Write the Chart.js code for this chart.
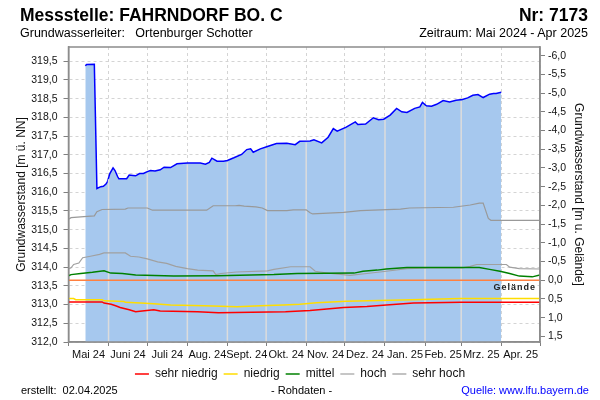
<!DOCTYPE html>
<html lang="de">
<head>
<meta charset="utf-8">
<title>Messstelle FAHRNDORF BO. C</title>
<script src="https://cdn.jsdelivr.net/npm/chart.js@4.4.1/dist/chart.umd.min.js"></script>
<style>
  body { margin: 0; background: #fff; }
  #wrap { position: relative; width: 600px; height: 400px; font-family: "Liberation Sans", Arial, sans-serif; color: #000; }
  #wrap div { position: absolute; white-space: pre; }
  .titel { font-size: 17.5px; font-weight: bold; top: 5px; line-height: 20px; }
  .sub { font-size: 12.5px; top: 26px; line-height: 14px; }
  .fuss { font-size: 11px; top: 383px; line-height: 14px; }
  canvas { position: absolute; left: 0; top: 0; }
</style>
</head>
<body>
<div id="wrap">
  <canvas id="ganglinie" width="600" height="400"></canvas>
  <div class="titel" style="left:20px">Messstelle: FAHRNDORF BO. C</div>
  <div class="titel" style="right:12px">Nr: 7173</div>
  <div class="sub" style="left:20px">Grundwasserleiter:   Ortenburger Schotter</div>
  <div class="sub" style="right:12px">Zeitraum: Mai 2024 - Apr 2025</div>
  <div class="fuss" style="left:21px">erstellt:  02.04.2025</div>
  <div class="fuss" style="left:271px">- Rohdaten -</div>
  <div class="fuss" style="right:11px;color:#0000ff">Quelle: www.lfu.bayern.de</div>
</div>
<script>
// Geländehöhe [m ü. NN]
const GELAENDE = 313.65;

// Tage seit 1. Mai 2024
const monatsGrenzen = [0, 31, 61, 92, 123, 153, 184, 214, 245, 276, 304, 335, 365];
const monatsNamen = ['Mai 24', 'Juni 24', 'Juli 24', 'Aug. 24', 'Sept. 24', 'Okt. 24',
  'Nov. 24', 'Dez. 24', 'Jan. 25', 'Feb. 25', 'Mrz. 25', 'Apr. 25'];

const linksTicks = [312.0, 312.5, 313.0, 313.5, 314.0, 314.5, 315.0, 315.5,
  316.0, 316.5, 317.0, 317.5, 318.0, 318.5, 319.0, 319.5];
const rechtsTicks = [-6.0, -5.5, -5.0, -4.5, -4.0, -3.5, -3.0, -2.5,
  -2.0, -1.5, -1.0, -0.5, 0.0, 0.5, 1.0, 1.5];

// [Tag, Wasserstand m ü. NN]
const pegel = [
  [13, 319.38], [14, 319.41], [20, 319.42], [22, 316.10], [25, 316.15], [27, 316.16],
  [29, 316.22], [30, 316.27], [32, 316.50], [34.5, 316.65], [36, 316.58], [38, 316.42],
  [39, 316.36], [45, 316.36], [47, 316.46], [50, 316.45], [52, 316.44], [55, 316.50],
  [58, 316.50], [61, 316.55], [63.5, 316.58], [67, 316.57], [71, 316.60], [74, 316.67],
  [79, 316.66], [84, 316.76], [92, 316.78], [102, 316.78], [106, 316.75], [109, 316.80],
  [111, 316.91], [115, 316.83], [120, 316.83], [123, 316.85], [128, 316.92], [134, 317.01],
  [138, 317.14], [141, 317.16], [143, 317.07], [148.5, 317.16], [154, 317.22], [161, 317.30],
  [169, 317.31], [175.5, 317.27], [179, 317.36], [187, 317.37], [190, 317.40], [196, 317.32],
  [201, 317.47], [205, 317.70], [208, 317.63], [215, 317.74], [222, 317.88], [224, 317.81],
  [230, 317.82], [236, 317.99], [240, 317.94], [244, 317.95], [249, 318.06], [254, 318.24],
  [258, 318.15], [262, 318.13], [268, 318.24], [272, 318.28], [274, 318.40], [277, 318.31],
  [281, 318.30], [285, 318.35], [290, 318.45], [295, 318.41], [300, 318.46], [305, 318.48],
  [309, 318.52], [313, 318.59], [317, 318.61], [321, 318.53], [326, 318.62], [329, 318.64],
  [331, 318.64], [335, 318.67]
];

const sehrHoch = [
  [0, 315.28], [2, 315.32], [12, 315.35], [20, 315.37], [22, 315.48], [26, 315.54],
  [44, 315.55], [46, 315.58], [61, 315.58], [65, 315.52], [107, 315.52], [112, 315.64],
  [129, 315.64], [132, 315.65], [136, 315.63], [145, 315.61], [150, 315.58], [154, 315.51],
  [169, 315.51], [174, 315.53], [184, 315.53], [187, 315.45], [189, 315.42], [213, 315.46],
  [226, 315.51], [257, 315.55], [264, 315.58], [298, 315.60], [311, 315.66], [318, 315.71],
  [321, 315.71], [325, 315.30], [327, 315.25], [365, 315.25]
];

const hoch = [
  [0, 313.95], [2, 313.98], [4, 314.07], [8, 314.11], [11, 314.25], [17, 314.29],
  [24, 314.34], [27.5, 314.38], [44, 314.38], [48, 314.29], [54.5, 314.27], [61, 314.22],
  [69, 314.14], [76, 314.10], [83, 314.02], [92, 313.96], [100, 313.92], [112, 313.90],
  [114, 313.80], [118, 313.83], [130, 313.87], [154, 313.90], [159, 313.94], [172, 314.01],
  [187, 314.01], [191, 313.89], [203, 313.83], [218, 313.78], [231, 313.83], [246, 313.89],
  [262, 313.96], [280, 313.98], [305, 313.98], [311, 314.02], [316, 314.07], [339, 314.07],
  [341.5, 314.00], [349, 313.96], [365, 313.95]
];

const mittel = [
  [0, 313.77], [2, 313.80], [9.5, 313.83], [18.5, 313.86], [27.5, 313.90], [32.7, 313.84],
  [41.7, 313.83], [52, 313.79], [81.5, 313.76], [115, 313.77], [159, 313.80], [177, 313.83],
  [221, 313.84], [228, 313.89], [239, 313.92], [246, 313.95], [262, 313.99], [318, 313.99],
  [326, 313.94], [334, 313.89], [341.5, 313.83], [349, 313.76], [359, 313.74], [365, 313.79]
];

const niedrig = [
  [0, 313.16], [4, 313.16], [5.6, 313.13], [26, 313.13], [27.5, 313.10], [43, 313.08],
  [44, 313.06], [56, 313.04], [66, 313.02], [79, 312.99], [105, 312.97], [130.5, 312.94],
  [148.5, 312.97], [166.5, 312.99], [179, 313.01], [192, 313.05], [215, 313.09], [266, 313.13],
  [303, 313.16], [365, 313.16]
];

const sehrNiedrig = [
  [0, 313.07], [26, 313.07], [27.5, 313.04], [33, 313.01], [36.5, 312.97], [40, 312.92],
  [47, 312.86], [52, 312.81], [57, 312.83], [66, 312.86], [71, 312.83], [100, 312.81],
  [116, 312.78], [168, 312.81], [187, 312.84], [200, 312.88], [213, 312.92], [231, 312.95],
  [246, 312.99], [267, 313.04], [304, 313.06], [365, 313.06]
];

const Y_MIN = 312.0, Y_MAX = 319.88;

const monatsMitten = monatsNamen.map((n, i) => (monatsGrenzen[i] + monatsGrenzen[i + 1]) / 2);
const xTicks = monatsGrenzen.concat(monatsMitten).sort((a, b) => a - b);
const istGrenze = v => monatsGrenzen.includes(v);
const komma = v => (Math.abs(v) < 1e-9 ? 0 : v).toFixed(1).replace('.', ',');
const punkte = arr => arr.map(p => ({x: p[0], y: p[1]}));

function pegelAm(tag) {
  for (let i = 1; i < pegel.length; i++) {
    if (pegel[i][0] >= tag) {
      const [x0, y0] = pegel[i - 1], [x1, y1] = pegel[i];
      return y0 + (y1 - y0) * (tag - x0) / (x1 - x0);
    }
  }
  return pegel[pegel.length - 1][1];
}

function linie(label, data, farbe, breite) {
  return {
    label: label, data: punkte(data), borderColor: farbe, backgroundColor: farbe,
    borderWidth: breite, pointRadius: 0, fill: false, tension: 0
  };
}

// helle Monatslinien über der Fläche
const monatsLinien = {
  id: 'monatsLinien',
  afterDatasetDraw(chart, args) {
    if (args.index !== 6) return;
    const ctx = chart.ctx, x = chart.scales.x, y = chart.scales.y;
    const von = pegel[0][0], bis = pegel[pegel.length - 1][0];
    ctx.save();
    ctx.strokeStyle = '#dcdcdc';
    ctx.lineWidth = 1.5;
    ctx.beginPath();
    monatsGrenzen.filter(d => d > von && d < bis).forEach(d => {
      const px = x.getPixelForValue(d);
      ctx.moveTo(px, chart.chartArea.bottom);
      ctx.lineTo(px, y.getPixelForValue(pegelAm(d)) + 1.5);
    });
    ctx.stroke();
    ctx.restore();
  }
};

const rahmen = {
  id: 'rahmen',
  afterDatasetsDraw(chart) {
    const ctx = chart.ctx, a = chart.chartArea;
    ctx.save();
    ctx.strokeStyle = '#8c8c8c';
    ctx.lineWidth = 1.5;
    ctx.strokeRect(a.left, a.top, a.right - a.left, a.bottom - a.top);
    ctx.fillStyle = '#222';
    ctx.font = 'bold 9px "Liberation Sans", Arial, sans-serif';
    ctx.letterSpacing = '1px';
    ctx.textAlign = 'right';
    ctx.textBaseline = 'middle';
    ctx.fillText('Gelände', a.right - 4, chart.scales.y.getPixelForValue(GELAENDE) + 7);
    ctx.restore();
  }
};

const ctx = document.getElementById('ganglinie').getContext('2d');
const chart = new Chart(ctx, {
  type: 'line',
  data: {
    datasets: [
      linie('sehr niedrig', sehrNiedrig, '#ff0000', 1.5),
      linie('niedrig', niedrig, '#ffdd00', 1.5),
      linie('mittel', mittel, '#008000', 1.5),
      linie('hoch', hoch, '#a0a0a0', 1.2),
      linie('sehr hoch', sehrHoch, '#999999', 1.2),
      linie('Gelände', [[0, GELAENDE], [365, GELAENDE]], '#ff8040', 1.5),
      {
        label: 'Grundwasserstand', data: punkte(pegel), borderColor: '#0000ff',
        backgroundColor: '#a6c8ee', borderWidth: 1.5, pointRadius: 0, fill: 'start', tension: 0
      }
    ]
  },
  options: {
    responsive: false,
    animation: false,
    layout: { padding: { top: 47, left: 0, right: 0, bottom: 10 } },
    plugins: {
      tooltip: { enabled: false },
      legend: {
        position: 'bottom',
        labels: {
          filter: item => item.datasetIndex < 5,
          usePointStyle: true,
          pointStyle: 'line',
          pointStyleWidth: 14,
          padding: 6,
          color: '#111',
          font: { size: 12, family: '"Liberation Sans", Arial, sans-serif' }
        }
      }
    },
    scales: {
      x: {
        type: 'linear', min: 0, max: 365,
        afterBuildTicks: s => { s.ticks = xTicks.map(v => ({value: v})); },
        afterFit: s => { s.height = 20; },
        ticks: {
          autoSkip: false, maxRotation: 0, padding: 2, color: '#111',
          font: { size: 11, family: '"Liberation Sans", Arial, sans-serif' },
          callback: v => { const i = monatsMitten.indexOf(v); return i >= 0 ? monatsNamen[i] : ''; }
        },
        grid: {
          color: c => (c.tick && istGrenze(c.tick.value)) ? '#d4d4d4' : 'rgba(0,0,0,0)',
          tickColor: c => (c.tick && istGrenze(c.tick.value)) ? '#808080' : 'rgba(0,0,0,0)',
          tickLength: 4, tickBorderDash: [], lineWidth: 1
        },
        border: { color: '#8c8c8c', width: 1.5, dash: [3, 3] }
      },
      y: {
        position: 'left', min: Y_MIN, max: Y_MAX,
        afterBuildTicks: s => { s.ticks = linksTicks.map(v => ({value: v})); },
        afterFit: s => { s.width = 68.5; },
        ticks: {
          padding: 6, color: '#111',
          font: { size: 10.5, family: '"Liberation Sans", Arial, sans-serif' },
          callback: v => komma(v)
        },
        grid: { color: '#d4d4d4', tickColor: '#808080', tickLength: 5, tickBorderDash: [] },
        border: { color: '#8c8c8c', width: 1.5, dash: [3, 3] },
        title: {
          display: true, text: 'Grundwasserstand [m ü. NN]', color: '#111',
          font: { size: 12, family: '"Liberation Sans", Arial, sans-serif' },
          padding: { top: 14, bottom: 0 }
        }
      },
      y2: {
        position: 'right', reverse: true,
        min: GELAENDE - Y_MAX, max: GELAENDE - Y_MIN,
        afterBuildTicks: s => { s.ticks = rechtsTicks.map(v => ({value: v})); },
        afterFit: s => { s.width = 60; },
        ticks: {
          padding: 3, color: '#111',
          font: { size: 10.5, family: '"Liberation Sans", Arial, sans-serif' },
          callback: v => komma(v)
        },
        grid: { drawOnChartArea: false, tickColor: '#808080', tickLength: 5, tickBorderDash: [] },
        border: { color: '#8c8c8c', width: 1.5 },
        title: {
          display: true, text: 'Grundwasserstand [m u. Gelände]', color: '#111',
          font: { size: 12, family: '"Liberation Sans", Arial, sans-serif' },
          padding: { top: 14, bottom: 0 }
        }
      }
    }
  },
  plugins: [monatsLinien, rahmen]
});
</script>
</body>
</html>
